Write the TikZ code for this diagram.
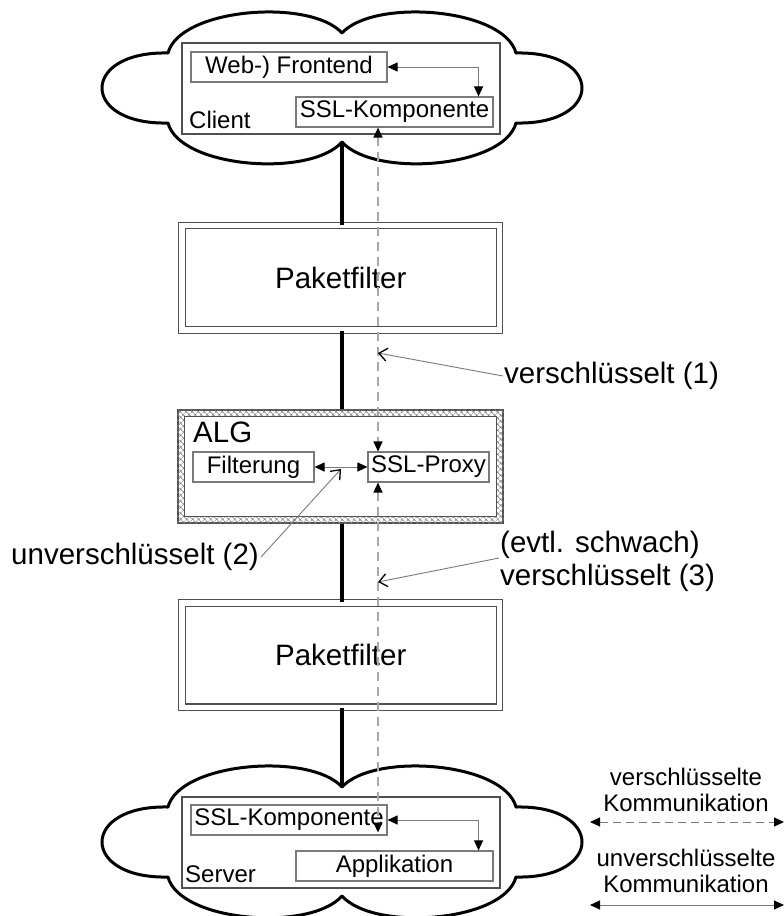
\documentclass[tikz,border=0pt]{standalone}
\usepackage{fontspec}
\setmainfont{Liberation Sans}
\usepackage{xcolor}
\usepackage{tikz}
\usetikzlibrary{arrows.meta,calc,patterns.meta}
\definecolor{rahmen}{HTML}{505050}
\definecolor{kante}{HTML}{7A7A7A}
\definecolor{strich}{HTML}{A8A8A8}
\newcommand{\klein}{\fontsize{24}{26}\selectfont}
\newcommand{\gross}{\fontsize{29.5}{33}\selectfont}

\begin{document}
\begin{tikzpicture}[
  x=1pt,y=-1pt,
  every node/.style={inner sep=0pt,font=\klein},
  wolke/.style={draw=black,line width=3pt,line join=round},
  bereich/.style={draw=rahmen,line width=1.8pt,minimum width=318pt,minimum height=91pt},
  feld/.style={draw=kante,line width=1.1pt,minimum height=30pt},
  paketkasten/.style={draw=rahmen,double,double distance=5.5pt,line width=1.2pt,
                      minimum width=317.5pt,minimum height=104.5pt,font=\gross},
  leitung/.style={line width=3.5pt,draw=black},
  verbindung/.style={{Triangle[length=10pt,width=9pt,color=black]}-{Triangle[length=10pt,width=9pt,color=black]},
                     draw=kante,line width=1pt},
  tunnel/.style={verbindung,draw=strich,line width=1.3pt,dash pattern=on 9pt off 6pt},
  zeiger/.style={-{Straight Barb[length=8pt,width=13pt,line width=1.3pt,color=black]},draw=kante,line width=0.9pt}
]
\useasboundingbox (0,0) rectangle (784,916);
\clip (0,0) rectangle (784,916);

\foreach \dy/\n in {0/oben,754/unten} {
  \draw[wolke,shift={(0,\dy)}] (168,53) .. controls (180,8) and (310,-2) .. (342,33)
    .. controls (374,-2) and (504,8) .. (516,53)
    .. controls (604,51) and (604,125) .. (516,123)
    .. controls (504,168) and (374,178) .. (342,142)
    .. controls (310,178) and (180,168) .. (168,123)
    .. controls (80,125) and (80,51) .. (168,53) -- cycle;
}
\coordinate (obendip) at (342,142);
\coordinate (untendip) at (342,787);
\coordinate (tap) at (378,0);

\node[bereich] (client) at (341,88.5) {};
\node[feld,minimum width=196pt] (web) at (289,67) {Web-) Frontend};
\node[feld,minimum width=197pt] (sslc) at (394.5,112) {SSL-Komponente};
\node[anchor=base west] (clientlbl) at (189,128) {Client};

\node[bereich] (server) at (341,842.5) {};
\node[feld,minimum width=196pt] (ssls) at (289,820) {SSL-Komponente};
\node[feld,minimum width=197pt] (appl) at (394.5,866) {Applikation};
\node[anchor=base west] (serverlbl) at (185,882) {Server};

\node[paketkasten] (pf1) at (340.75,277.75) {Paketfilter};
\node[paketkasten] (pf2) at (340.75,655) {Paketfilter};

\node[draw=rahmen,line width=1.2pt,minimum width=325pt,minimum height=113pt] (alg) at (340.5,466.5) {};
\fill[pattern={Hatch[angle=45,distance=4pt,line width=0.6pt]},pattern color=gray,even odd rule]
  (alg.north west) rectangle (alg.south east)
  ($(alg.north west)+(7,7)$) rectangle ($(alg.south east)+(-7,-7)$);
\draw[draw=rahmen,line width=1.2pt] ($(alg.north west)+(7,7)$) rectangle ($(alg.south east)+(-7,-7)$);
\node[anchor=base west,font=\gross] (alglbl) at (193,442) {ALG};
\node[feld,minimum width=121pt] (filt) at (253.5,467) {Filterung};
\node[feld,minimum width=121pt] (proxy) at (428.5,467) {SSL-Proxy};

\draw[verbindung] (web.east) -| ($(sslc.north east)+(-15,0)$);
\draw[verbindung] (ssls.east) -| ($(appl.north east)+(-15,0)$);
\draw[verbindung] (filt.east) -- (proxy.west);

\draw[leitung] (obendip) -- (obendip |- pf1.north);
\draw[leitung] (obendip |- pf1.south) -- (obendip |- alg.north);
\draw[leitung] (obendip |- alg.south) -- (obendip |- pf2.north);
\draw[leitung] (obendip |- pf2.south) -- (untendip);

\draw[tunnel] (tap |- sslc.south) -- (tap |- proxy.north);
\draw[tunnel] (tap |- proxy.south) -- ($(tap |- ssls.south)+(0,-3)$);

\node[font=\gross,anchor=west,inner sep=1pt] (v1) at (503,376) {verschlüsselt (1)};
\node[font=\gross,anchor=east,inner sep=2pt] (u2) at (261,557) {unverschlüsselt (2)};
\node[font=\gross,align=left,anchor=west,inner sep=1pt] (v3) at (499,561) {(evtl. schwach)\\verschlüsselt (3)};
\draw[zeiger] (v1.west) -- ($(tap)+(0,353)$);
\draw[zeiger] (u2.east) -- ($($(filt.east)!0.5!(proxy.west)$)+(0,2)$);
\draw[zeiger] ($(v3.west)+(0,-3)$) -- ($(tap)+(0,582)$);

\node[align=center] (leg1) at (686,790) {verschlüsselte\\Kommunikation};
\node[align=center] (leg2) at (686,871) {unverschlüsselte\\Kommunikation};
\coordinate (l1a) at (590,822);
\coordinate (l1b) at (784,822);
\coordinate (l2a) at (590,905);
\coordinate (l2b) at (784,905);
\draw[tunnel,draw=kante,line width=1pt,dash pattern=on 8pt off 5pt] (l1a) -- (l1b);
\draw[verbindung] (l2a) -- (l2b);
\end{tikzpicture}
\end{document}
